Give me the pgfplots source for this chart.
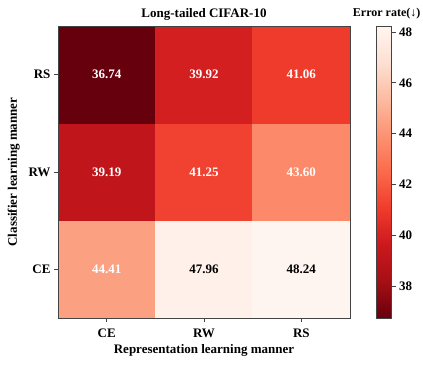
\documentclass[border=0pt]{standalone}
\usepackage{fontspec}
\setmainfont{Liberation Serif}
\usepackage{pgfplots}
\pgfplotsset{compat=1.18}

\pgfplotsset{
  colormap={redsr}{rgb255=(103,0,13) rgb255=(165,15,21) rgb255=(203,24,29)
    rgb255=(239,59,44) rgb255=(251,106,74) rgb255=(252,146,114)
    rgb255=(252,187,161) rgb255=(254,224,210) rgb255=(255,245,240)},
}
\definecolor{frame}{HTML}{444444}

\begin{document}
\begin{tikzpicture}[font=\bfseries\fontsize{13}{15}\selectfont]
\useasboundingbox (-58pt,-47pt) rectangle (365pt,318pt);
\begin{axis}[
    at={(0,0)}, anchor=south west,
    scale only axis, width=292pt, height=292pt,
    axis on top,
    colormap name=redsr,
    xmin=-0.5, xmax=2.5, ymin=-0.5, ymax=2.5,
    xtick={0,1,2}, xticklabels={CE,RW,RS},
    ytick={0,1,2}, yticklabels={CE,RW,RS},
    xtick pos=bottom, ytick pos=left, tick align=outside,
    major tick length=4pt,
    tick style={frame, line width=0.8pt},
    axis line style={frame, line width=0.8pt},
    xticklabel style={yshift=-3pt},
    title={Long-tailed CIFAR-10},
    title style={yshift=-4pt},
    xlabel={Representation learning manner},
    ylabel={Classifier learning manner},
    xlabel style={yshift=0pt},
    ylabel style={yshift=2pt},
    point meta min=36.74, point meta max=48.24,
    colorbar,
    colorbar style={
        at={(parent axis.north east)}, anchor=north west, xshift=18pt,
        width=15pt, height=292pt,
        ytick={38,40,...,48},
        ytick pos=right, tick align=outside,
        major tick length=4pt,
        tick style={frame, line width=0.8pt},
        axis line style={frame, line width=0.8pt},
        yticklabel style={/pgf/number format/assume math mode=true, font=\bfseries\fontsize{13}{15}\selectfont},
        title={Error rate(↓)},
        title style={at={(1,1)}, anchor=base east, xshift=29pt, yshift=4pt,
          inner sep=0pt, font=\bfseries\fontsize{12}{14}\selectfont},
    },
]
\addplot[matrix plot*, mesh/cols=3, point meta=explicit] table[meta=c] {
x y c
0 0 44.41
1 0 47.96
2 0 48.24
0 1 39.19
1 1 41.25
2 1 43.60
0 2 36.74
1 2 39.92
2 2 41.06
};
\node[white] at (axis cs:0,2) {36.74};
\node[white] at (axis cs:1,2) {39.92};
\node[white] at (axis cs:2,2) {41.06};
\node[white] at (axis cs:0,1) {39.19};
\node[white] at (axis cs:1,1) {41.25};
\node[white] at (axis cs:2,1) {43.60};
\node[white] at (axis cs:0,0) {44.41};
\node[black] at (axis cs:1,0) {47.96};
\node[black] at (axis cs:2,0) {48.24};
\end{axis}
\end{tikzpicture}
\end{document}
